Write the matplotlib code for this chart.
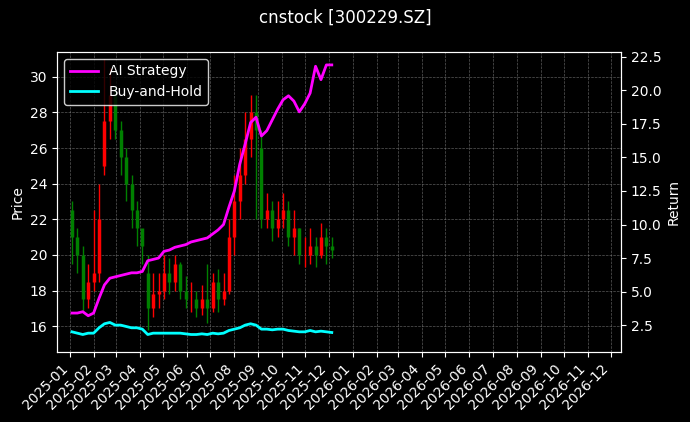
import numpy as np
import pandas as pd
import matplotlib
matplotlib.use("Agg")
import matplotlib.pyplot as plt
import matplotlib.dates as mdates

plt.style.use("dark_background")

# weekly readings of the chart
dates = pd.date_range("2025-01-03", "2025-12-05", freq="W-FRI")
close = [21.0, 20.0, 17.5, 18.5, 19.0,
         22.0, 27.5, 29.0, 27.0,
         25.5, 24.0, 22.5, 21.5,
         20.5, 17.0, 17.8, 18.0,
         19.0, 18.5, 19.5, 18.0, 17.5,
         17.5, 17.0, 17.5, 17.0,
         18.5, 17.5, 18.0, 21.0,
         23.0, 24.5, 26.5, 28.0, 27.0,
         22.0, 22.5, 21.5, 22.0,
         22.5, 21.0, 21.5, 20.0, 20.0,
         20.5, 20.0, 21.0, 20.5,
         20.3]
opn = [22.5, 21.0, 20.0, 17.5, 18.5,
       19.0, 25.0, 27.5, 29.0,
       27.0, 25.5, 24.0, 22.5,
       21.5, 19.0, 17.0, 17.8,
       18.0, 19.0, 18.5, 19.5, 18.0,
       17.5, 17.5, 17.0, 17.5,
       17.0, 18.5, 17.5, 18.0,
       21.0, 23.0, 24.5, 26.5, 28.0,
       26.0, 22.0, 22.5, 21.5,
       22.0, 22.5, 21.0, 21.5, 20.0,
       20.0, 20.5, 20.0, 21.0,
       20.5]
high = [23.0, 21.5, 20.5, 19.5, 22.5,
        24.0, 31.0, 30.5, 29.5,
        27.5, 26.0, 24.5, 23.0,
        21.0, 20.0, 19.0, 19.0,
        20.0, 19.8, 20.0, 19.6, 18.8,
        18.5, 18.0, 18.3, 19.5,
        19.0, 19.2, 19.0, 22.0,
        24.5, 26.0, 28.0, 29.0, 29.0,
        27.0, 23.5, 23.0, 23.0,
        23.5, 23.0, 22.5, 21.5, 21.0,
        21.5, 21.0, 21.8, 21.5,
        21.0]
low = [19.5, 19.0, 16.8, 17.0, 18.0,
       18.5, 24.5, 26.5, 26.5,
       24.5, 23.0, 21.5, 20.5,
       19.5, 15.8, 16.5, 17.0,
       17.5, 17.8, 18.0, 17.5, 17.0,
       16.8, 16.5, 16.6, 16.2,
       16.8, 16.8, 17.2, 17.8,
       20.0, 22.0, 24.0, 25.5, 22.0,
       21.5, 21.5, 20.8, 21.0,
       21.5, 20.5, 20.0, 19.5, 19.3,
       19.5, 19.3, 19.8, 19.5,
       19.8]
ai_ret = [3.4, 3.4, 3.5, 3.2, 3.4,
          4.5, 5.5, 6.0, 6.1,
          6.2, 6.3, 6.4, 6.4,
          6.5, 7.3, 7.4, 7.5,
          8.0, 8.1, 8.3, 8.4, 8.5,
          8.7, 8.8, 8.9, 9.0,
          9.3, 9.6, 10.0, 11.3,
          12.5, 14.5, 16.0, 17.6, 18.0,
          16.6, 17.0, 17.8, 18.6,
          19.3, 19.6, 19.2, 18.4, 19.0,
          19.8, 21.8, 20.8, 21.9,
          21.9]
bh_ret = [2.0, 1.9, 1.8, 1.9, 1.9,
          2.3, 2.6, 2.7, 2.5,
          2.5, 2.4, 2.3, 2.3,
          2.2, 1.8, 1.9, 1.9,
          1.9, 1.9, 1.9, 1.9, 1.85,
          1.8, 1.8, 1.85, 1.8,
          1.9, 1.85, 1.9, 2.1,
          2.2, 2.3, 2.5, 2.6, 2.5,
          2.2, 2.2, 2.15, 2.2,
          2.2, 2.1, 2.05, 2.0, 2.0,
          2.1, 2.0, 2.05, 2.0,
          1.95]

fig, ax = plt.subplots(figsize=(6.9, 4.22), dpi=100)
fig.patch.set_facecolor("black")
ax.set_facecolor("black")

for d, o, c, h, l in zip(dates, opn, close, high, low):
    col = "red" if c >= o else "green"
    ax.vlines(d, l, h, color=col, lw=1.0)
    ax.vlines(d, min(o, c), max(o, c), color=col, lw=2.5)

ax.set_ylabel("Price")
ax.set_ylim(14.55, 31.4)
ax.grid(True, ls="--", lw=0.5, color="gray", alpha=0.7)

ax2 = ax.twinx()
ax2.plot(dates, ai_ret, color="magenta", lw=2, label="AI Strategy")
ax2.plot(dates, bh_ret, color="cyan", lw=2, label="Buy-and-Hold")
ax2.set_ylabel("Return")
ax2.set_ylim(0.5, 22.87)
ax2.legend(loc="upper left", facecolor="black", edgecolor="white")

ax.set_xlim(pd.Timestamp("2024-12-15"), pd.Timestamp("2026-12-14"))
ax.xaxis.set_major_locator(mdates.MonthLocator())
ax.xaxis.set_major_formatter(mdates.DateFormatter("%Y-%m"))
plt.setp(ax.get_xticklabels(), rotation=45, ha="right")

fig.suptitle("cnstock [300229.SZ]")
fig.subplots_adjust(left=0.083, right=0.9, top=0.877, bottom=0.166)
fig.savefig("out.png", dpi=100, facecolor="black")
